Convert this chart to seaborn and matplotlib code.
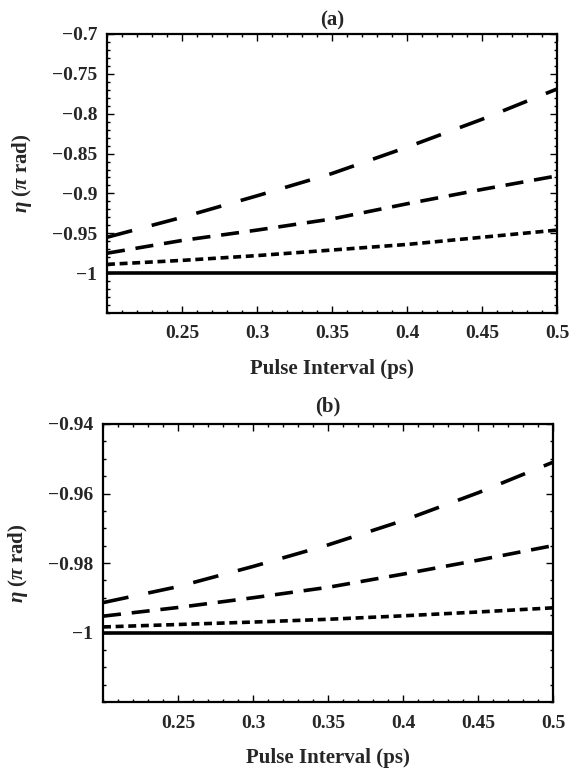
import matplotlib
matplotlib.use("Agg")
import matplotlib.pyplot as plt
import matplotlib.ticker as mticker
import numpy as np
import pandas as pd
import seaborn as sns

# ---- data ----
pulse_interval = [0.2, 0.25, 0.3, 0.35, 0.4, 0.45, 0.5]

a_long = [-0.955, -0.930, -0.903, -0.875, -0.842, -0.807, -0.769]
a_medium = [-0.975, -0.959, -0.946, -0.932, -0.913, -0.895, -0.878]
a_short = [-0.989, -0.984, -0.978, -0.971, -0.964, -0.955, -0.946]
a_solid = [-1.0, -1.0, -1.0, -1.0, -1.0, -1.0, -1.0]

b_long = [-0.9914, -0.9868, -0.9810, -0.9748, -0.9678, -0.9598, -0.9510]
b_medium = [-0.9953, -0.9928, -0.9900, -0.9870, -0.9832, -0.9792, -0.9750]
b_short = [-0.9984, -0.9977, -0.9970, -0.9962, -0.9952, -0.9941, -0.9929]
b_solid = [-1.0, -1.0, -1.0, -1.0, -1.0, -1.0, -1.0]

x_ticks = [0.25, 0.3, 0.35, 0.4, 0.45, 0.5]
a_yticks = [-1.0, -0.95, -0.9, -0.85, -0.8, -0.75, -0.7]
b_yticks = [-1.0, -0.98, -0.96, -0.94]

series_names = ["long", "medium", "short", "solid"]

sns.set_theme(style="ticks")
plt.rcParams["font.family"] = ["Liberation Serif", "DejaVu Serif"]
plt.rcParams["font.weight"] = "bold"
plt.rcParams["mathtext.fontset"] = "custom"
plt.rcParams["mathtext.rm"] = "Liberation Serif:bold"
plt.rcParams["mathtext.it"] = "Liberation Serif:italic:bold"
plt.rcParams["mathtext.bf"] = "Liberation Serif:bold"

dash_styles = {
    "long": (7.2, 5.6),
    "medium": (5.0, 3.0),
    "short": (2.2, 1.3),
    "solid": "",
}


def make_df(vals):
    rows = []
    for name, v in zip(series_names, vals):
        for x, y in zip(pulse_interval, v):
            rows.append({"x": x, "y": y, "series": name})
    return pd.DataFrame(rows)


def fmt(v, pos):
    s = "%g" % round(v, 6)
    return s.replace("-", "\u2212")


fig = plt.figure(figsize=(5.75, 7.72), dpi=100)
ax_a = fig.add_axes([107 / 575, 1 - 313 / 772, 450 / 575, 279 / 772])
ax_b = fig.add_axes([103 / 575, 1 - 702 / 772, 450 / 575, 278 / 772])

panels = [
    (ax_a, [a_long, a_medium, a_short, a_solid], (-1.05, -0.7), a_yticks, 0.01, "(a)", 6),
    (ax_b, [b_long, b_medium, b_short, b_solid], (-1.02, -0.94), b_yticks, 0.005, "(b)", 9),
]

for ax, vals, ylim, yticks, yminor, title, tpad in panels:
    df = make_df(vals)
    sns.lineplot(data=df, x="x", y="y", style="series", dashes=dash_styles,
                 color="black", linewidth=2.6, legend=False, ax=ax)
    ax.set_xlim(0.2, 0.5)
    ax.set_ylim(*ylim)
    ax.set_xticks(x_ticks)
    ax.set_yticks(yticks)
    ax.xaxis.set_minor_locator(mticker.MultipleLocator(0.01))
    ax.yaxis.set_minor_locator(mticker.MultipleLocator(yminor))
    ax.xaxis.set_major_formatter(mticker.FuncFormatter(fmt))
    ax.yaxis.set_major_formatter(mticker.FuncFormatter(fmt))
    ax.tick_params(which="both", direction="in", top=True, right=True,
                   labelsize=14, width=1.0, color="black", pad=7)
    ax.tick_params(axis="x", which="major", pad=9)
    ax.tick_params(which="major", length=5)
    ax.tick_params(which="minor", length=2.5)
    for lab in ax.get_xticklabels() + ax.get_yticklabels():
        lab.set_fontweight("bold")
    for sp in ax.spines.values():
        sp.set_linewidth(1.6)
        sp.set_color("black")
    ax.set_xlabel("Pulse Interval (ps)", fontsize=15, fontweight="bold", labelpad=12)
    ax.set_ylabel(r"$\eta$ ($\pi$ rad)", fontsize=15, fontweight="bold", labelpad=13)
    ax.set_title(title, fontsize=15, fontweight="bold", pad=tpad)
    ax.set_facecolor("white")

fig.savefig("out.png", dpi=100, facecolor="white")
